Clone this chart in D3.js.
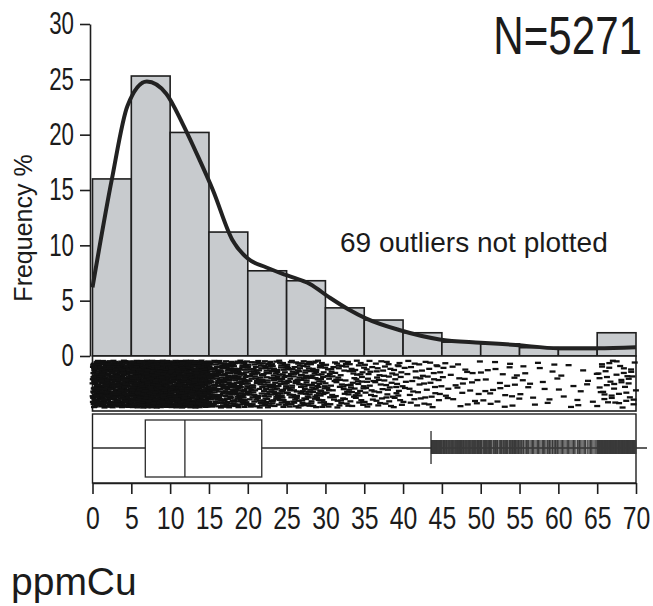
<!DOCTYPE html>
<html>
<head>
<meta charset="utf-8">
<script src="https://cdn.jsdelivr.net/npm/d3@7/dist/d3.min.js"></script>
<style>
  body { margin: 0; background: #ffffff; }
  text { font-family: "Liberation Sans", Arial, Helvetica, sans-serif; fill: #1b1b1b; }
</style>
</head>
<body>
<svg id="chart" width="653" height="606"></svg>
<script>
// Copper (ppm) in 5271 samples: histogram, density curve, 1-D scatter and box plot
const sampleCount = 5271;
const outliersNotPlotted = 69;
const variableName = "ppmCu";

// histogram, 5 ppm bins from 0 to 70
const binStarts = [0, 5, 10, 15, 20, 25, 30, 35, 40, 45, 50, 55, 60, 65];
const binWidth = 5;
const frequencyPct = [16.0, 25.3, 20.2, 11.2, 7.7, 6.8, 4.35, 3.25, 2.1, 1.25, 1.1, 0.75, 0.6, 2.1];

// smoothed density curve (frequency %)
const densityX = [0, 2.5, 4.5, 7, 9.5, 11.6, 13.8, 15.5, 18, 20, 22.4, 25, 28, 30.5, 33, 35.2, 39.5, 44.7, 50, 54.5, 60, 65, 70];
const densityY = [6.2, 16, 22.6, 24.8, 23.7, 21.0, 17.7, 15.0, 10.5, 8.8, 8.0, 7.3, 6.5, 5.3, 4.2, 3.4, 2.35, 1.5, 1.2, 1.0, 0.7, 0.7, 0.8];

// box plot statistics: lower whisker, Q1, median, Q3, upper whisker
const boxStatNames = ["lowerWhisker", "q1", "median", "q3", "upperWhisker"];
const boxStatValues = [0, 6.8, 11.9, 21.8, 43.6];

// axis ticks
const yTickValues = [0, 5, 10, 15, 20, 25, 30];
const xTickValues = [0, 5, 10, 15, 20, 25, 30, 35, 40, 45, 50, 55, 60, 65, 70];

const svg = d3.select("#chart");
const box = Object.fromEntries(boxStatNames.map((k, i) => [k, boxStatValues[i]]));

const x = d3.scaleLinear().domain([0, 70]).range([92.5, 636]);
const y = d3.scaleLinear().domain([0, 30]).range([356, 24]);

const ink = "#1e1e1e";
const stripTop = 356, stripBottom = 411;
const panelTop = 414, panelBottom = 483;
const boxMid = 448;

// ---- histogram bars
svg.append("g")
  .selectAll("rect")
  .data(binStarts.map((b, i) => ({ b, f: frequencyPct[i] })))
  .join("rect")
  .attr("x", d => x(d.b))
  .attr("width", d => x(d.b + binWidth) - x(d.b))
  .attr("y", d => y(d.f))
  .attr("height", d => y(0) - y(d.f))
  .attr("fill", "#c8cbce")
  .attr("stroke", ink)
  .attr("stroke-width", 1.6);

// ---- density curve
const line = d3.line()
  .x(d => x(d[0]))
  .y(d => y(d[1]))
  .curve(d3.curveMonotoneX);
svg.append("path")
  .datum(densityX.map((v, i) => [v, densityY[i]]))
  .attr("d", line)
  .attr("fill", "none")
  .attr("stroke", "#222")
  .attr("stroke-width", 4)
  .attr("stroke-linejoin", "round");

// ---- sample values spread through each histogram bin (count from bin frequency),
// placed with Halton sequences so the strip fills evenly
function halton(i, base) {
  let f = 1, r = 0;
  while (i > 0) { f /= base; r += f * (i % base); i = Math.floor(i / base); }
  return r;
}
const samples = [];
binStarts.forEach((b, i) => {
  const n = Math.round(frequencyPct[i] / 100 * sampleCount);
  for (let j = 0; j < n; j++) {
    const k = j + 1 + i * 37;
    samples.push({
      value: b + binWidth * halton(k, 2),
      lane: halton(k, 3),
      rank: j / n
    });
  }
});

// ---- 1-D scatter strip (a thinned share of each bin is drawn)
svg.append("rect")
  .attr("x", x(0)).attr("y", stripTop)
  .attr("width", x(70) - x(0)).attr("height", stripBottom - stripTop)
  .attr("fill", "#fff").attr("stroke", ink).attr("stroke-width", 1.6);

svg.append("g")
  .selectAll("rect")
  .data(samples.filter(d => d.rank < 0.42))
  .join("rect")
  .attr("x", d => x(d.value) - 3)
  .attr("y", d => stripTop + 3.5 + d.lane * (stripBottom - stripTop - 8))
  .attr("width", 6)
  .attr("height", 2.3)
  .attr("fill", "#111");

// ---- box plot panel
svg.append("rect")
  .attr("x", x(0)).attr("y", panelTop)
  .attr("width", x(70) - x(0)).attr("height", panelBottom - panelTop)
  .attr("fill", "#fff").attr("stroke", ink).attr("stroke-width", 1.4);

const bp = svg.append("g").attr("stroke", "#2a2a2a").attr("stroke-width", 1.3);
// whisker line through the outlier region (continues past the axis end)
bp.append("line")
  .attr("x1", x(box.lowerWhisker)).attr("x2", x(70) + 11)
  .attr("y1", boxMid).attr("y2", boxMid);

// outliers above the upper whisker
bp.append("g")
  .selectAll("line")
  .data(samples.filter(d => d.value > box.upperWhisker))
  .join("line")
  .attr("x1", d => x(d.value)).attr("x2", d => x(d.value))
  .attr("y1", boxMid - 8).attr("y2", boxMid + 6)
  .attr("stroke", "#3a3a3a").attr("stroke-width", 1.1);

// upper whisker cap
bp.append("line")
  .attr("x1", x(box.upperWhisker)).attr("x2", x(box.upperWhisker))
  .attr("y1", boxMid - 17).attr("y2", boxMid + 16);

// box and median
bp.append("rect")
  .attr("x", x(box.q1)).attr("y", 420)
  .attr("width", x(box.q3) - x(box.q1)).attr("height", 57)
  .attr("fill", "#fff");
bp.append("line")
  .attr("x1", x(box.median)).attr("x2", x(box.median))
  .attr("y1", 420).attr("y2", 477);

// ---- axes (condensed numerals drawn by squeezing the glyphs horizontally)
const yAxis = svg.append("g")
  .attr("transform", "translate(90,0)")
  .call(d3.axisLeft(y).tickValues(yTickValues).tickSize(10).tickSizeOuter(0).tickPadding(6));
const xAxis = svg.append("g")
  .attr("transform", `translate(0,${panelBottom})`)
  .call(d3.axisBottom(x).tickValues(xTickValues).tickSize(11).tickSizeOuter(0).tickPadding(13));

[yAxis, xAxis].forEach(g => {
  g.select(".domain").attr("stroke", ink).attr("stroke-width", 1.6);
  g.selectAll(".tick line").attr("stroke", ink).attr("stroke-width", 1.6);
  g.selectAll(".tick text")
    .attr("fill", "#1b1b1b")
    .attr("font-family", null)
    .style("font-size", "31px");
});
const yLabelSqueeze = 0.72, xLabelSqueeze = 0.8;
yAxis.selectAll(".tick text")
  .attr("x", -16 / yLabelSqueeze)
  .attr("transform", `scale(${yLabelSqueeze},1)`);
xAxis.selectAll(".tick text")
  .attr("transform", `scale(${xLabelSqueeze},1)`);

// ---- labels
svg.append("text")
  .attr("transform", "translate(32,228) rotate(-90)")
  .attr("text-anchor", "middle")
  .style("font-size", "25px")
  .text("Frequency %");

svg.append("text")
  .attr("transform", "translate(642,54) scale(0.78,1)")
  .attr("text-anchor", "end")
  .style("font-size", "54px")
  .text(`N=${sampleCount}`);

svg.append("text")
  .attr("x", 340).attr("y", 252)
  .style("font-size", "28px")
  .text(`${outliersNotPlotted} outliers not plotted`);

svg.append("text")
  .attr("x", 11).attr("y", 595)
  .style("font-size", "39px")
  .text(variableName);
</script>
</body>
</html>
